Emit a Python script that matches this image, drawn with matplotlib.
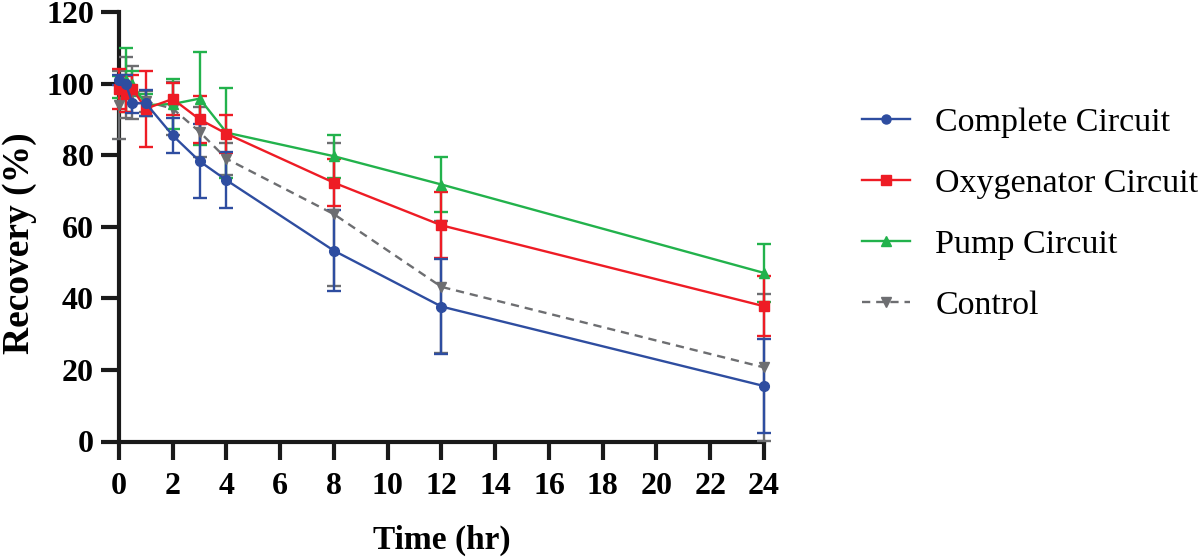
import matplotlib
matplotlib.use("Agg")
import matplotlib.pyplot as plt

time_hr = [0, 0.25, 0.5, 1, 2, 3, 4, 8, 12, 24]

complete_mean = [101.0, 100.0, 94.5, 94.5, 85.5, 78.3, 73.0, 53.3, 37.7, 15.5]
complete_err = [1.5, 2.5, 2.8, 3.6, 4.9, 10.3, 7.8, 11.3, 13.3, 13.0]

oxygenator_mean = [98.5, 97.0, 98.5, 93.0, 95.7, 90.0, 86.0, 72.3, 60.4, 37.8]
oxygenator_err = [5.5, 5.0, 4.0, 10.6, 4.4, 6.5, 5.3, 6.6, 9.2, 8.4]

pump_mean = [99.0, 101.0, 100.0, 94.0, 94.3, 95.8, 86.3, 79.7, 71.8, 47.1]
pump_err = [3.0, 9.0, 3.5, 3.0, 7.0, 13.0, 12.6, 6.0, 7.8, 8.0]

control_mean = [94.0, 99.0, 97.5, 95.0, 93.0, 86.5, 79.0, 63.5, 43.2, 20.7]
control_err = [9.5, 8.5, 7.5, 3.0, 7.5, 7.0, 4.5, 20.0, 18.5, 20.6]

labels = ["Complete Circuit", "Oxygenator Circuit", "Pump Circuit", "Control"]
colors = ["#2E4DA0", "#EE1C25", "#22B24C", "#6D6E71"]

x_ticks = list(range(0, 25, 2))
y_ticks = list(range(0, 121, 20))

plt.rcParams['font.family'] = ['Liberation Serif', 'DejaVu Serif']

fig = plt.figure(figsize=(12, 5.57), dpi=100)
ax = fig.add_axes([119/1200, 1-441.5/557, (764-119)/1200, (441.5-12)/557])

series = [
    (control_mean, control_err, labels[3], colors[3], 'v', (0, (3.5, 2.5))),
    (pump_mean, pump_err, labels[2], colors[2], '^', '-'),
    (oxygenator_mean, oxygenator_err, labels[1], colors[1], 's', '-'),
    (complete_mean, complete_err, labels[0], colors[0], 'o', '-'),
]
handles = {}
for mean, err, lab, col, mk, ls in series:
    ax.errorbar(time_hr, mean, yerr=err, color=col, marker=mk, markersize=7,
                linestyle=ls, linewidth=1.7, elinewidth=1.7, capsize=5, capthick=1.7,
                label=lab, clip_on=False, zorder=3)
    handles[lab] = ax.plot([], [], color=col, marker=mk, markersize=6.5, linestyle=ls, linewidth=1.7)[0]

ax.set_xlim(0, 24)
ax.set_ylim(0, 120)
ax.set_xticks(x_ticks)
ax.set_yticks(y_ticks)
for s in ['top', 'right']:
    ax.spines[s].set_visible(False)
for s in ['left', 'bottom']:
    ax.spines[s].set_linewidth(3)
    ax.spines[s].set_color('#1a1a1a')
ax.tick_params(axis='both', length=13, width=3, color='#1a1a1a', labelsize=23)
ax.tick_params(axis='x', pad=9)
ax.tick_params(axis='y', pad=5)
for lbl in ax.get_xticklabels() + ax.get_yticklabels():
    lbl.set_fontweight('bold')

ax.set_xlabel("Time (hr)", fontsize=24, fontweight='bold', labelpad=17)
ax.set_ylabel("Recovery (%)", fontsize=27, fontweight='bold')
ax.yaxis.set_label_coords(-0.127, 0.462)

leg = fig.legend([handles[l] for l in labels], labels, loc='center left',
                 bbox_to_anchor=(862/1200, 1-214/557), frameon=False, fontsize=24.5,
                 handlelength=1.4, handletextpad=0.75, labelspacing=0.88,
                 borderpad=0, borderaxespad=0)

fig.savefig("out.png", dpi=100)
